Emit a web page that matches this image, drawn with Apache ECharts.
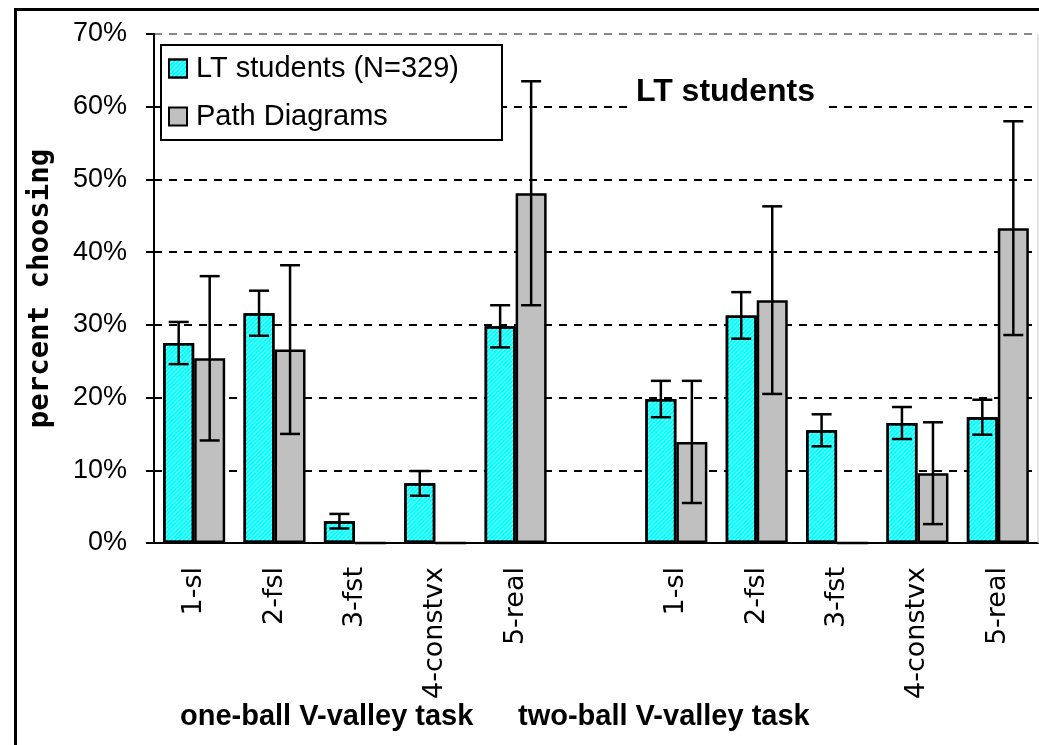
<!DOCTYPE html>
<html>
<head>
<meta charset="utf-8">
<script src="https://cdn.jsdelivr.net/npm/echarts@6/dist/echarts.min.js"></script>
<style>
  html, body { margin: 0; padding: 0; background: #fff; }
  #chart { width: 1039px; height: 745px; }
</style>
</head>
<body>
<div id="chart"></div>
<script>
// categories: 5 answer choices per task, empty slot between the two tasks
var categories = ['1-sl', '2-fsl', '3-fst', '4-constvx', '5-real', '', '1-sl', '2-fsl', '3-fst', '4-constvx', '5-real'];

// LT students (N=329), percent choosing
var ltValues = [27.5, 31.6, 3.0, 8.2, 29.8, null, 19.8, 31.3, 15.5, 16.5, 17.3];
var ltErrors = [2.9, 3.1, 1.0, 1.7, 2.9, null, 2.5, 3.2, 2.2, 2.2, 2.4];

// Path Diagrams
var pdValues = [25.4, 26.6, 0, 0, 48.1, null, 13.9, 33.4, 0, 9.6, 43.3];
var pdErrors = [11.3, 11.6, 0, 0, 15.4, null, 8.4, 12.9, 0, 7.0, 14.7];

var yTicks = [0, 10, 20, 30, 40, 50, 60, 70];

var BAR_W = 31;

// error bar rows: [category index, value, error]
function errRows(vals, errs) {
  var rows = [];
  for (var i = 0; i < vals.length; i++) {
    if (vals[i] != null && errs[i]) rows.push([i, vals[i], errs[i]]);
  }
  return rows;
}

function errorBar(offset) {
  return function (params, api) {
    var i = api.value(0), v = api.value(1), e = api.value(2);
    var hi = api.coord([i, v + e]);
    var lo = api.coord([i, v - e]);
    var x = hi[0] + offset;
    var cap = 10;
    var style = { stroke: '#000', lineWidth: 2.5 };
    return {
      type: 'group',
      children: [
        { type: 'line', shape: { x1: x, y1: hi[1], x2: x, y2: lo[1] }, style: style },
        { type: 'line', shape: { x1: x - cap, y1: hi[1], x2: x + cap, y2: hi[1] }, style: style },
        { type: 'line', shape: { x1: x - cap, y1: lo[1], x2: x + cap, y2: lo[1] }, style: style }
      ]
    };
  };
}

var chart = echarts.init(document.getElementById('chart'), null, { renderer: 'canvas' });

var hatch = {
  symbol: 'rect',
  symbolSize: 1,
  dashArrayX: [[1, 0]],
  dashArrayY: [1, 2],
  rotation: -Math.PI / 4,
  color: 'rgba(255,255,255,0.5)'
};

var option = {
  backgroundColor: '#fff',
  animation: false,
  grid: { left: 154, right: 1, top: 34, bottom: 202 },
  legend: {
    data: ['LT students (N=329)', 'Path Diagrams'],
    orient: 'vertical',
    left: 161,
    top: 45,
    icon: 'rect',
    itemWidth: 18,
    itemHeight: 18,
    itemGap: 19,
    padding: [9, 43, 9, 7],
    backgroundColor: '#fff',
    borderColor: '#000',
    borderWidth: 2,
    textStyle: { fontFamily: 'Liberation Sans', fontSize: 29, color: '#000', padding: [0, 0, 0, 4] }
  },
  xAxis: {
    type: 'category',
    data: categories,
    axisLine: { lineStyle: { color: '#000', width: 2 } },
    axisTick: { length: 8, lineStyle: { color: '#000', width: 2 } },
    axisLabel: {
      rotate: 90,
      margin: 24,
      interval: 0,
      fontFamily: 'DejaVu Sans',
      fontSize: 27,
      color: '#000'
    },
    splitLine: { show: false }
  },
  yAxis: {
    type: 'value',
    min: yTicks[0],
    max: yTicks[yTicks.length - 1],
    interval: 10,
    name: 'percent choosing',
    nameLocation: 'middle',
    nameRotate: 90,
    nameGap: 99,
    nameTextStyle: { fontFamily: 'DejaVu Sans Mono', fontWeight: 'bold', fontSize: 29, color: '#000' },
    axisLine: { show: true, lineStyle: { color: '#000', width: 2 } },
    axisTick: { show: true, length: 8, lineStyle: { color: '#000', width: 2 } },
    axisLabel: {
      formatter: '{value}%',
      margin: 27,
      fontFamily: 'Liberation Sans',
      fontSize: 27,
      color: '#000'
    },
    splitLine: {
      show: true,
      lineStyle: {
        color: ['#000', '#000', '#000', '#000', '#000', '#000', '#000', '#888'],
        width: 2,
        type: [8, 7]
      }
    }
  },
  series: [
    {
      name: 'LT students (N=329)',
      type: 'bar',
      data: ltValues,
      barWidth: BAR_W,
      barGap: 0,
      itemStyle: { color: '#00FFFF', borderColor: '#000', borderWidth: 2.5, decal: hatch },
      z: 3
    },
    {
      name: 'Path Diagrams',
      type: 'bar',
      data: pdValues,
      barWidth: BAR_W,
      barGap: 0,
      itemStyle: { color: '#C0C0C0', borderColor: '#000', borderWidth: 2.5 },
      z: 3
    },
    {
      name: 'ltErr',
      type: 'custom',
      data: errRows(ltValues, ltErrors),
      encode: { x: 0, y: 1 },
      renderItem: errorBar(-BAR_W / 2),
      z: 5
    },
    {
      name: 'pdErr',
      type: 'custom',
      data: errRows(pdValues, pdErrors),
      encode: { x: 0, y: 1 },
      renderItem: errorBar(BAR_W / 2),
      z: 5
    }
  ],
  graphic: [
    // outer frame of the figure
    {
      type: 'rect',
      left: 13, top: 7,
      shape: { width: 1100, height: 800 },
      style: { fill: 'none', stroke: '#000', lineWidth: 3 },
      z: 0
    },
    // thin right edge of the plot area
    {
      type: 'line',
      shape: { x1: 1038, y1: 34, x2: 1038, y2: 543 },
      style: { stroke: '#ccc', lineWidth: 1 },
      z: 1
    },
    {
      type: 'text',
      left: 627, top: 76,
      style: {
        text: 'LT students',
        font: 'bold 32px "Liberation Sans"',
        fill: '#000',
        backgroundColor: '#fff',
        padding: [0, 9, 0, 9]
      },
      z: 10
    },
    {
      type: 'text',
      left: 180, top: 702,
      style: { text: 'one-ball V-valley task', font: 'bold 29px "Liberation Sans"', fill: '#000' }
    },
    {
      type: 'text',
      left: 518, top: 702,
      style: { text: 'two-ball V-valley task', font: 'bold 29px "Liberation Sans"', fill: '#000' }
    }
  ]
};

chart.setOption(option);
</script>
</body>
</html>
